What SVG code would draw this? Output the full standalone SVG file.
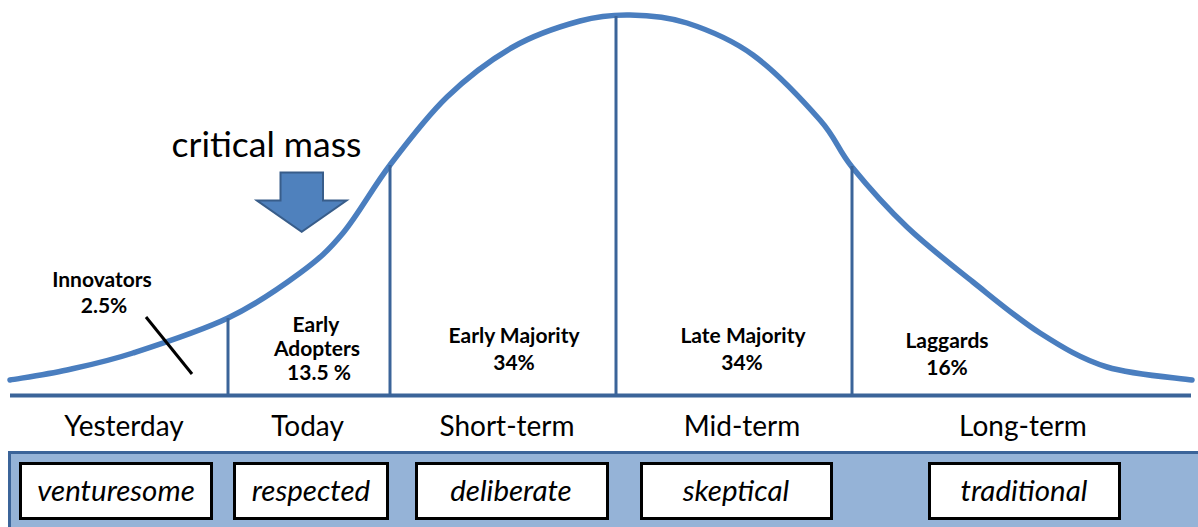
<svg xmlns="http://www.w3.org/2000/svg" width="1198" height="527" viewBox="0 0 1198 527">
<style>
text{font-family:Lato,"Open Sans","Liberation Sans",sans-serif;fill:#000;text-anchor:middle}
.seg{font-weight:bold;font-size:21px}
.col{font-size:28px}
.trait{font-size:29.5px;font-style:italic}
.title{font-size:35.5px}
.div{stroke:#3b6499;stroke-width:3;fill:none}
.box{fill:#fff;stroke:#000;stroke-width:3}
</style>
<rect width="1198" height="527" fill="#fff"/>
<g id="curve">
<path d="M10,380 C19.5,378.3 46.5,374.5 67,370 C87.5,365.5 106.2,361.7 133,353 C159.8,344.3 200.2,331.3 228,318 C255.8,304.7 280.8,287.2 300,273 C319.2,258.8 328,251 343,233 C358,215 372.7,187.7 390,165 C407.3,142.3 426.5,116.7 447,97 C467.5,77.3 490.8,59.7 513,47 C535.2,34.3 560.5,26.3 580,21 C599.5,15.7 612.2,14.7 630,15 C647.8,15.3 666.5,16.3 687,23 C707.5,29.7 730.8,38.8 753,55 C775.2,71.2 803.5,101.3 820,120 C836.5,138.7 837.5,149.2 852,167 C866.5,184.8 886.8,207.8 907,227 C927.2,246.2 950.8,264.3 973,282 C995.2,299.7 1017.7,318.8 1040,333 C1062.3,347.2 1081.7,359.2 1107,367 C1132.3,374.8 1177.8,377.8 1192,380" fill="none" stroke="#4a7ebf" stroke-width="5.5" stroke-linecap="round"/>
</g>
<g id="connectors">
<line class="div" x1="228" y1="318" x2="228" y2="395"/>
<line class="div" x1="390" y1="165" x2="390" y2="395"/>
<line class="div" x1="616" y1="16" x2="616" y2="395"/>
<line class="div" x1="852" y1="166" x2="852" y2="395"/>
<line x1="10" y1="395.5" x2="1191" y2="395.5" stroke="#3b6499" stroke-width="4"/>
<line x1="146" y1="317" x2="192" y2="374" stroke="#000" stroke-width="3"/>
</g>
<g id="critical-mass">
<text class="title" x="266.5" y="157">critical mass</text>
<polygon points="280.5,172.5 323,172.5 323,200.5 346.5,200.5 301.7,231.7 257,200.5 280.5,200.5" fill="#4f81bd" stroke="#385d8a" stroke-width="2"/>
</g>
<g id="innovators">
<text class="seg" x="102" y="287">Innovators</text>
<text class="seg" x="104" y="313">2.5%</text>
</g>
<g id="early-adopters">
<text class="seg" x="316" y="332">Early</text>
<text class="seg" x="317" y="356">Adopters</text>
<text class="seg" x="319" y="380">13.5 %</text>
</g>
<g id="early-majority">
<text class="seg" x="514" y="343">Early Majority</text>
<text class="seg" x="514" y="370">34%</text>
</g>
<g id="late-majority">
<text class="seg" x="743" y="343">Late Majority</text>
<text class="seg" x="742" y="370">34%</text>
</g>
<g id="laggards">
<text class="seg" x="947" y="348">Laggards</text>
<text class="seg" x="947" y="375">16%</text>
</g>
<g id="timeline">
<text class="col" x="124" y="436">Yesterday</text>
<text class="col" x="307.5" y="436">Today</text>
<text class="col" x="507" y="436">Short-term</text>
<text class="col" x="742" y="436">Mid-term</text>
<text class="col" x="1023" y="436">Long-term</text>
</g>
<g id="panel">
<rect x="9.5" y="452.5" width="1200" height="90" fill="#95b3d7" stroke="#3b6499" stroke-width="3"/>
</g>
<g id="trait-venturesome">
<rect class="box" x="20.5" y="463.5" width="191" height="55"/>
<text class="trait" x="116" y="501">venturesome</text>
</g>
<g id="trait-respected">
<rect class="box" x="234.5" y="463.5" width="153" height="55"/>
<text class="trait" x="311" y="501">respected</text>
</g>
<g id="trait-deliberate">
<rect class="box" x="416.5" y="463.5" width="191" height="55"/>
<text class="trait" x="511" y="501">deliberate</text>
</g>
<g id="trait-skeptical">
<rect class="box" x="641.5" y="463.5" width="190" height="55"/>
<text class="trait" x="736" y="501">skeptical</text>
</g>
<g id="trait-traditional">
<rect class="box" x="929.5" y="463.5" width="190" height="55"/>
<text class="trait" x="1024" y="501">traditional</text>
</g>
</svg>
